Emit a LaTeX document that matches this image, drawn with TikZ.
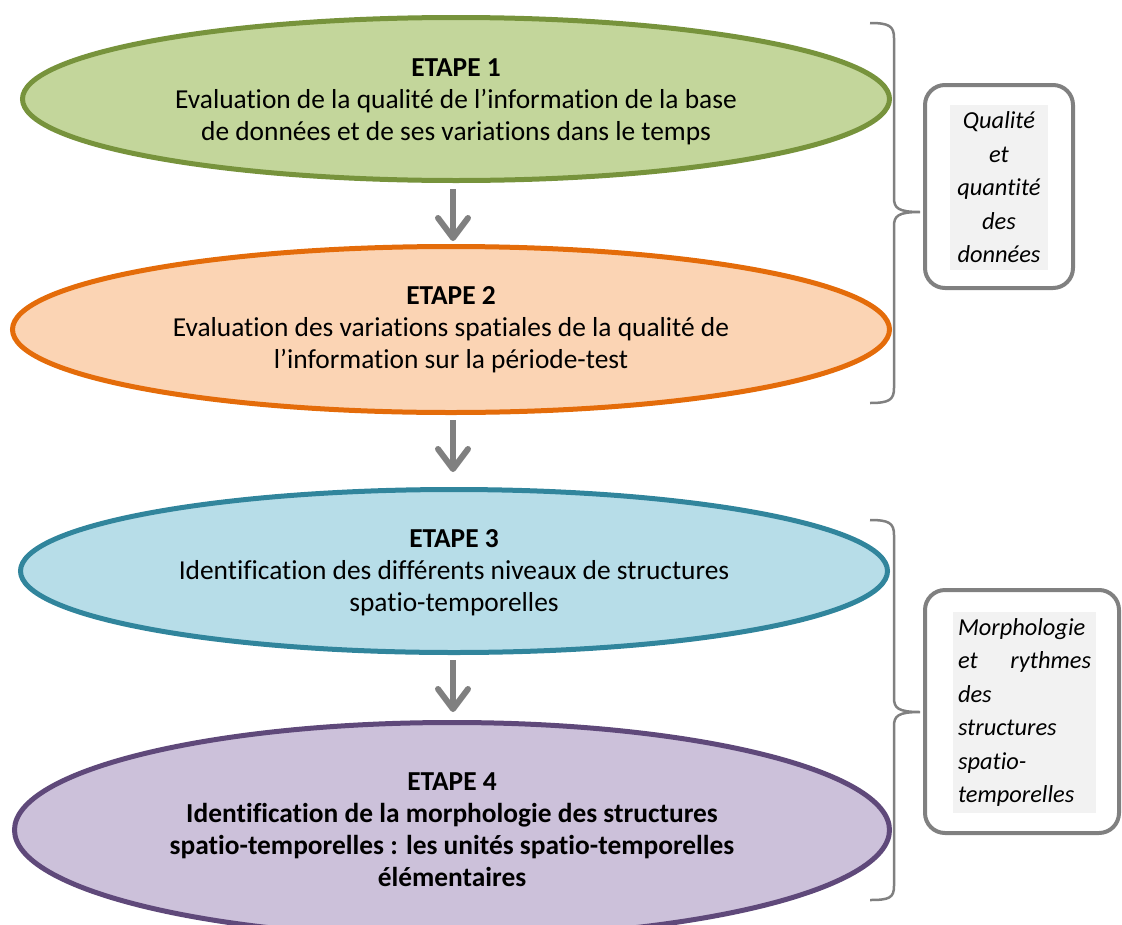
\documentclass[tikz,border=0pt]{standalone}
\usepackage{fontspec}
\setmainfont{Carlito}[Ligatures={NoCommon}]
\usetikzlibrary{shapes.geometric,arrows.meta}
\definecolor{g1f}{HTML}{C3D69B}\definecolor{g1d}{HTML}{77933C}
\definecolor{o2f}{HTML}{FBD4B4}\definecolor{o2d}{HTML}{E46C0A}
\definecolor{b3f}{HTML}{B7DDE8}\definecolor{b3d}{HTML}{31859C}
\definecolor{p4f}{HTML}{CCC1DA}\definecolor{p4d}{HTML}{5F497A}
\definecolor{gr}{HTML}{808080}\definecolor{lgr}{HTML}{F2F2F2}
\tikzset{
  etape/.style={ellipse,inner sep=0pt,line width=5pt},
  etext/.style={inner sep=0pt,align=center,font=\fontsize{27.4}{32}\selectfont},
  arr/.style={draw=gr,line width=6pt,-{Straight Barb[length=20pt,width=30pt,round]}},
  brace/.style={draw=gr,line width=2.5pt},
  sidebox/.style={draw=gr,line width=4pt,rounded corners=20pt,fill=white,inner sep=0pt},
  sidetext/.style={fill=lgr,inner sep=0pt,font=\fontsize{24.4}{33.5}\selectfont\itshape}
}
\begin{document}
\begin{tikzpicture}[x=1pt,y=-1pt]
\useasboundingbox (0,0) rectangle (1122,924);
\node[etape,draw=g1d,fill=g1f,minimum width=867pt,minimum height=163pt] (e1) at (456,99) {};
\node[etext] (t1) at (456,102)
  {\textbf{ETAPE 1}\\Evaluation de la qualité de l’information de la base\\de données et de ses variations dans le temps};
\node[etape,draw=o2d,fill=o2f,minimum width=877pt,minimum height=166pt] (e2) at (451,329.5) {};
\node[etext] (t2) at (451,330)
  {\textbf{ETAPE 2}\\Evaluation des variations spatiales de la qualité de\\l’information sur la période-test};
\node[etape,draw=b3d,fill=b3f,minimum width=867pt,minimum height=163pt] (e3) at (454,571) {};
\node[etext] (t3) at (454,573)
  {\textbf{ETAPE 3}\\Identification des différents niveaux de structures\\spatio-temporelles};
\node[etape,draw=p4d,fill=p4f,minimum width=875pt,minimum height=215pt] (e4) at (452,830) {};
\node[etext,font=\fontsize{27.4}{32}\selectfont\bfseries] (t4) at (452,830)
  {ETAPE 4\\Identification de la morphologie des structures\\spatio-temporelles : les unités spatio-temporelles\\élémentaires};
\draw[arr,shorten <=6pt,shorten >=3pt] ([xshift=-3pt]e1.south) -- ([xshift=-3pt]e1.south |- e2.north);
\draw[arr,shorten <=5pt,shorten >=15pt] ([xshift=2pt]e2.south) -- ([xshift=2pt]e2.south |- e3.north);
\draw[arr,shorten <=5pt,shorten >=8pt] ([xshift=-1pt]e3.south) -- ([xshift=-1pt]e3.south |- e4.north);
% braces
\coordinate (k1) at (920,212);
\coordinate (k2) at (920,712);
\draw[brace] (870,23) .. controls (889,23) and (894,26) .. (894,38) -- (894,198)
  .. controls (894,208) and (898,212) .. (k1) .. controls (898,212) and (894,216) .. (894,226)
  -- (894,388) .. controls (894,400) and (889,403) .. (870,403);
\draw[brace] (870,520) .. controls (889,520) and (894,523) .. (894,535) -- (894,698)
  .. controls (894,708) and (898,712) .. (k2) .. controls (898,712) and (894,716) .. (894,726)
  -- (894,886) .. controls (894,898) and (889,900) .. (870,900);
% side boxes
\node[sidebox,minimum width=148pt,minimum height=203pt] (b1) at (999,186.5) {};
\node[sidetext,text width=98pt,align=center,minimum height=165pt] (s1) at (999,187.5)
  {Qualité\\et\\quantité\\des\\données};
\node[sidebox,minimum width=194pt,minimum height=243pt] (b2) at (1022,711.5) {};
\node[sidetext,text width=133pt,inner xsep=5pt,align=left,minimum height=201pt] (s2) at (1024.5,712.5)
  {Morphologie\\\leavevmode\hbox to 133pt{et\hfill rythmes}\\des\\structures\\spatio-\\temporelles};
\end{tikzpicture}
\end{document}
